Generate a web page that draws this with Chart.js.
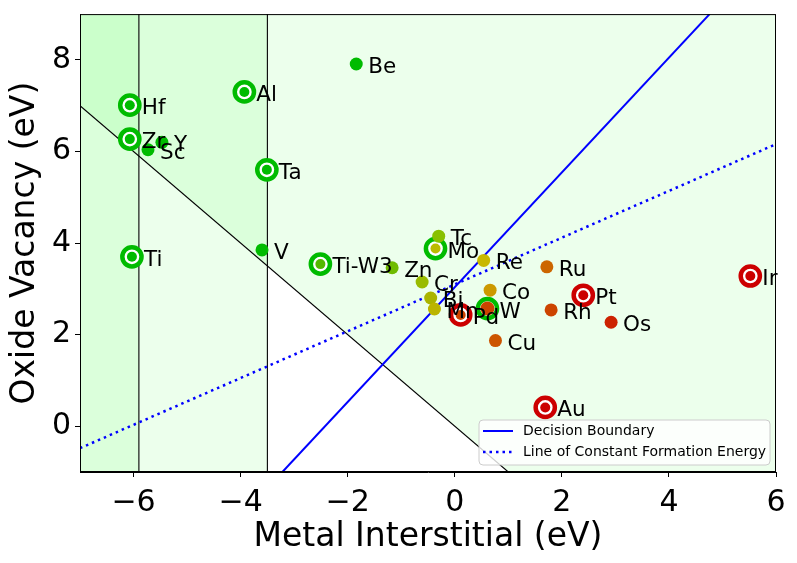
<!DOCTYPE html>
<html><head><meta charset="utf-8">
<script src="https://cdn.jsdelivr.net/npm/chart.js@4/dist/chart.umd.min.js"></script>
<style>html,body{margin:0;padding:0;background:#fff;overflow:hidden}#wrap{width:797px;height:563px;position:relative}</style>
</head><body><div id="wrap"><canvas id="c"></canvas></div>
<script>
// ---- data ----
const names = ['Be','Al','Hf','Zr','Y','Sc','Ta','Ti','V','Ti-W3','Zn','Tc','Mo','Re','Cr','Bi','Mn','Pd','W','Co','Cu','Ru','Pt','Rh','Os','Ir','Au'];
const metalInterstitial = [-1.84,-3.93,-6.07,-6.07,-5.47,-5.73,-3.51,-6.03,-3.60,-2.51,-1.17,-0.30,-0.36,0.54,-0.61,-0.45,-0.38,0.11,0.61,0.66,0.76,1.72,2.40,1.80,2.92,5.52,1.69];
const oxideVacancy = [7.91,7.30,7.01,6.27,6.20,6.04,5.60,3.70,3.85,3.54,3.46,4.15,3.88,3.62,3.15,2.80,2.56,2.43,2.57,2.97,1.87,3.48,2.86,2.54,2.27,3.28,0.41];
const ringed = [false,true,true,true,false,false,true,true,false,true,false,false,true,false,false,false,false,true,true,false,false,false,true,false,false,true,true];
const pointColors = ['#00bb00','#00bb00','#00bb00','#00bb00','#00bb00','#00bb00','#00bb00','#00bb00','#00bb00','#55b800','#6fbb00','#88c000','#bbbb00','#c8b800','#99bb00','#aab400','#bbb400','#cc4400','#cc4400','#cc9900','#cc5500','#cc6600','#cc0000','#cc4400','#cc2200','#cc0000','#cc0000'];
const ringColors = ['#00bb00','#00bb00','#00bb00','#00bb00','#00bb00','#00bb00','#00bb00','#00bb00','#00bb00','#00bb00','#00bb00','#00bb00','#00bb00','#00bb00','#00bb00','#00bb00','#00bb00','#cc0000','#00bb00','#00bb00','#00bb00','#00bb00','#cc0000','#00bb00','#00bb00','#cc0000','#cc0000'];
const xTicks = [-6,-4,-2,0,2,4,6];
const yTicks = [0,2,4,6,8];
const xRange = [-7, 6];
const yRange = [-1, 9];
const regionBounds = [-5.9, -3.5];            // vertical boundaries
const diagX = [-7, 1], diagY = [7, -1];        // black dividing line
const boundaryX = [-3.22, 4.76], boundaryY = [-1, 9];   // decision boundary
const formationX = [-7, 6], formationY = [-0.48, 6.16]; // constant formation energy
const legendLabels = ['Decision Boundary','Line of Constant Formation Energy'];

Chart.defaults.font.family = 'DejaVu Sans';
Chart.defaults.color = '#000';

const pts = names.map((n,i)=>({x:metalInterstitial[i], y:oxideVacancy[i]}));
const ringIdx = names.map((n,i)=>i).filter(i=>ringed[i]);

const bgPlugin = {
  id:'bg',
  beforeDatasetsDraw(chart){
    const {ctx, chartArea:a, scales:{x,y}} = chart;
    ctx.save();
    ctx.beginPath(); ctx.rect(a.left,a.top,a.right-a.left,a.bottom-a.top); ctx.clip();
    ctx.fillStyle = 'rgba(0,255,0,0.075)';
    ctx.beginPath();
    ctx.moveTo(x.getPixelForValue(diagX[0]), y.getPixelForValue(diagY[0]));
    ctx.lineTo(x.getPixelForValue(diagX[1]), y.getPixelForValue(diagY[1]));
    ctx.lineTo(x.getPixelForValue(xRange[1]), y.getPixelForValue(yRange[0]));
    ctx.lineTo(x.getPixelForValue(xRange[1]), y.getPixelForValue(yRange[1]));
    ctx.lineTo(x.getPixelForValue(xRange[0]), y.getPixelForValue(yRange[1]));
    ctx.closePath(); ctx.fill();
    regionBounds.forEach(b=>{
      const xl = x.getPixelForValue(xRange[0]), xr = x.getPixelForValue(b);
      ctx.fillRect(xl, a.top, xr-xl, a.bottom-a.top);
    });
    ctx.restore();
  },
  afterDatasetsDraw(chart){
    const {ctx, chartArea:a, scales:{x,y}} = chart;
    ctx.save();
    ctx.strokeStyle = '#000'; ctx.lineWidth = 1;
    ctx.strokeRect(a.left+0.5, a.top+0.5, a.right-a.left-1, a.bottom-a.top-1);
    ctx.fillStyle = '#000';
    ctx.font = '21.5px "DejaVu Sans"';
    ctx.textBaseline = 'alphabetic';
    ctx.textAlign = 'left';
    names.forEach((n,i)=>{
      const px = x.getPixelForValue(metalInterstitial[i]);
      const py = y.getPixelForValue(oxideVacancy[i]);
      ctx.fillText(n, px+12, py+9);
    });
    const lx = a.right-297, ly = a.bottom-52, lw = 291, lh = 45;
    ctx.beginPath();
    if (ctx.roundRect) ctx.roundRect(lx, ly, lw, lh, 4); else ctx.rect(lx,ly,lw,lh);
    ctx.fillStyle = 'rgba(255,255,255,0.8)'; ctx.fill();
    ctx.strokeStyle = '#cccccc'; ctx.lineWidth = 1; ctx.stroke();
    ctx.font = '14px "DejaVu Sans"';
    ctx.fillStyle = '#000';
    ctx.textBaseline = 'middle';
    const rows = [ly+11, ly+32];
    ctx.strokeStyle = '#0000ff';
    ctx.lineWidth = 2; ctx.setLineDash([]);
    ctx.beginPath(); ctx.moveTo(lx+4, rows[0]); ctx.lineTo(lx+34, rows[0]); ctx.stroke();
    ctx.lineWidth = 2.5; ctx.setLineDash([2.5,4]);
    ctx.beginPath(); ctx.moveTo(lx+4, rows[1]); ctx.lineTo(lx+34, rows[1]); ctx.stroke();
    ctx.setLineDash([]);
    ctx.fillText(legendLabels[0], lx+44, rows[0]);
    ctx.fillText(legendLabels[1], lx+44, rows[1]);
    ctx.restore();
  }
};

const lineDs = (xs, ys, color, width, dash, order) => ({
  type:'scatter', showLine:true, data: xs.map((v,i)=>({x:v, y:ys[i]})),
  borderColor: color, borderWidth: width, borderDash: dash, pointRadius:0, fill:false, order
});

const fmt = v => String(v).replace('-', '\u2212');

new Chart(document.getElementById('c'), {
  type:'scatter',
  data:{datasets:[
    {data: pts, pointRadius: names.map((n,i)=> i===18 ? 7 : (ringed[i] ? 5 : 6.5)),
     pointBackgroundColor: pointColors, pointBorderWidth:0, order:0},
    {data: ringIdx.map(i=>pts[i]), pointRadius: 9.6, pointBorderWidth: 4.5,
     pointBackgroundColor:'#ffffff', pointBorderColor: ringIdx.map(i=>ringColors[i]), order:1},
    lineDs(diagX, diagY, '#000000', 1.1, [], 5),
    lineDs([regionBounds[0],regionBounds[0]], yRange, '#000000', 1.1, [], 5),
    lineDs([regionBounds[1],regionBounds[1]], yRange, '#000000', 1.1, [], 5),
    lineDs(boundaryX, boundaryY, '#0000ff', 2, [], 4),
    lineDs(formationX, formationY, '#0000ff', 2.5, [2.5,4], 4)
  ]},
  options:{
    responsive:true, maintainAspectRatio:false, animation:false, events:[],
    layout:{padding:{left:0,right:21,top:10,bottom:0}},
    plugins:{legend:{display:false}, tooltip:{enabled:false}},
    scales:{
      x:{type:'linear', min:xRange[0], max:xRange[1],
        afterBuildTicks: s=>{ s.ticks = xTicks.map(v=>({value:v})); },
        afterFit: s=>{ s.height = 91; s.paddingLeft = 0; s.paddingRight = 0; },
        grid:{drawOnChartArea:false, drawTicks:true, tickLength:5, color:'#000', tickWidth:1},
        border:{display:true, color:'#000', width:1},
        ticks:{font:{size:30}, color:'#000', padding:8, maxRotation:0, autoSkip:false, callback: v=>fmt(v)},
        title:{display:true, text:'Metal Interstitial (eV)', font:{size:33}, color:'#000', padding:{top:0,bottom:6}}
      },
      y:{type:'linear', min:yRange[0], max:yRange[1],
        afterBuildTicks: s=>{ s.ticks = yTicks.map(v=>({value:v})); },
        afterFit: s=>{ s.width = 80; s.paddingTop = 0; s.paddingBottom = 0; },
        grid:{drawOnChartArea:false, drawTicks:true, tickLength:5, color:'#000', tickWidth:1},
        border:{display:true, color:'#000', width:1},
        ticks:{font:{size:30}, color:'#000', padding:4, autoSkip:false, callback: v=>fmt(v)},
        title:{display:true, text:'Oxide Vacancy (eV)', font:{size:33}, color:'#000', padding:{top:6,bottom:0}}
      }
    }
  },
  plugins:[bgPlugin]
});
</script></body></html>
